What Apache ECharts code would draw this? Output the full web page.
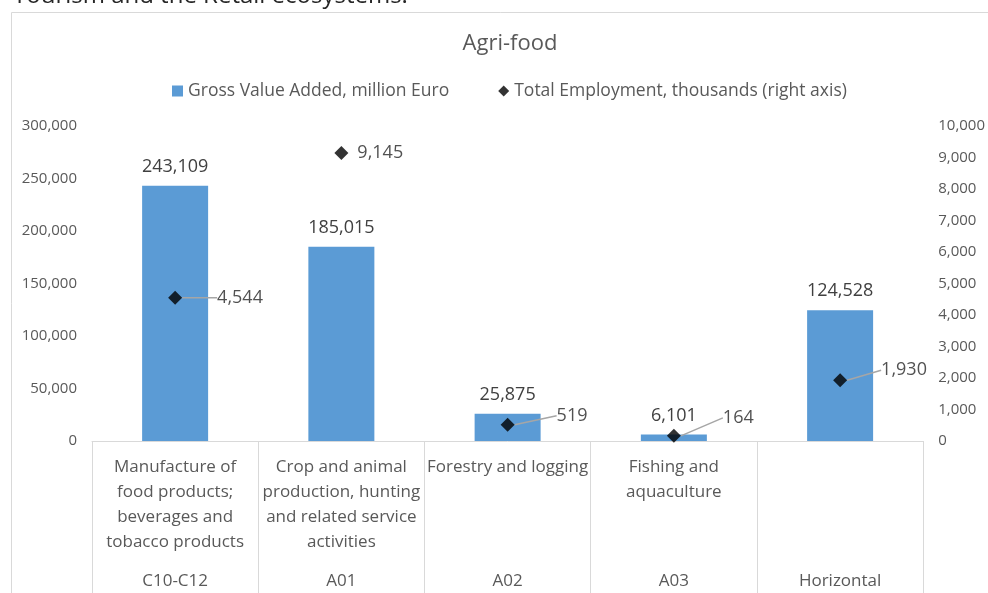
<!DOCTYPE html>
<html>
<head>
<meta charset="utf-8">
<script src="https://cdn.jsdelivr.net/npm/echarts@6/dist/echarts.min.js"></script>
<style>
  html, body { margin: 0; padding: 0; background: #fff; }
  #main { width: 988px; height: 593px; }
</style>
</head>
<body>
<div id="main"></div>
<script>
// chart data
var names = [
  'Manufacture of\nfood products;\nbeverages and\ntobacco products',
  'Crop and animal\nproduction, hunting\nand related service\nactivities',
  'Forestry and logging',
  'Fishing and\naquaculture',
  ''
];
var codes = ['C10-C12', 'A01', 'A02', 'A03', 'Horizontal'];
var gva = [243109, 185015, 25875, 6101, 124528];          // million Euro
var employment = [4544, 9145, 519, 164, 1930];            // thousands
// label offsets for the employment labels (dx, dy)
var empLabelShift = [[30, 0], [4, 0], [37, -9], [37, -18], [29, -10]];

var FONT = '"Open Sans", sans-serif';
var grey = '#595959';

var mychart = echarts.init(document.getElementById('main'));

var fmt = function (v) { return echarts.format.addCommas(v); };

var option = {
  animation: false,
  textStyle: { fontFamily: FONT },
  title: {
    text: 'Agri-food',
    left: 505,
    textAlign: 'center',
    top: 28,
    textStyle: { fontFamily: FONT, fontSize: 22, fontWeight: 'normal', color: grey }
  },
  legend: {
    top: 77,
    left: 167,
    itemWidth: 11,
    itemHeight: 11,
    itemGap: 49,
    textStyle: { fontFamily: FONT, fontSize: 17.5, color: grey },
    data: [
      { name: 'Gross Value Added, million Euro', icon: 'rect' },
      { name: 'Total Employment, thousands (right axis)', icon: 'diamond', itemStyle: { color: '#000' } }
    ]
  },
  graphic: [
    {
      type: 'rect',
      shape: { x: 11.5, y: 12.5, width: 1000, height: 620 },
      style: { fill: 'none', stroke: '#d9d9d9', lineWidth: 1 },
      silent: true
    },
    {
      type: 'text',
      x: 13,
      y: -4,
      style: {
        text: 'Tourism and the Retail ecosystems.',
        font: '24px "Open Sans", sans-serif',
        fill: '#262626',
        verticalAlign: 'middle'
      },
      silent: true
    }
  ],
  grid: { left: 92, right: 63, top: 126, bottom: 152 },
  xAxis: [
    {
      type: 'category',
      data: names,
      position: 'bottom',
      axisLine: { lineStyle: { color: '#d9d9d9' } },
      axisTick: { show: true, length: 170, lineStyle: { color: '#d9d9d9' } },
      axisLabel: {
        interval: 0,
        margin: 14,
        fontFamily: FONT,
        fontSize: 17,
        lineHeight: 25,
        color: grey
      }
    },
    {
      type: 'category',
      data: codes,
      position: 'bottom',
      offset: 124,
      axisLine: { show: false },
      axisTick: { show: false },
      axisLabel: {
        interval: 0,
        fontFamily: FONT,
        fontSize: 17,
        color: grey
      }
    }
  ],
  yAxis: [
    {
      type: 'value',
      min: 0,
      max: 300000,
      interval: 50000,
      splitLine: { show: false },
      axisLine: { show: false },
      axisLabel: { fontFamily: FONT, fontSize: 15, color: grey, margin: 15, formatter: fmt }
    },
    {
      type: 'value',
      min: 0,
      max: 10000,
      interval: 1000,
      splitLine: { show: false },
      axisLine: { show: false },
      axisLabel: { fontFamily: FONT, fontSize: 15, color: grey, margin: 15, formatter: fmt }
    }
  ],
  series: [
    {
      name: 'Gross Value Added, million Euro',
      type: 'bar',
      xAxisIndex: 0,
      yAxisIndex: 0,
      barWidth: 66,
      itemStyle: { color: '#5B9BD5' },
      label: {
        show: true,
        position: 'top',
        distance: 10,
        fontFamily: FONT,
        fontSize: 18,
        color: '#404040',
        formatter: function (p) { return fmt(p.value); }
      },
      data: gva
    },
    {
      name: 'Total Employment, thousands (right axis)',
      type: 'scatter',
      xAxisIndex: 0,
      yAxisIndex: 1,
      symbol: 'diamond',
      symbolSize: 14,
      itemStyle: { color: '#000' },
      label: {
        show: true,
        position: 'right',
        distance: 5,
        fontFamily: FONT,
        fontSize: 18,
        color: '#262626',
        formatter: function (p) { return fmt(p.value); }
      },
      labelLine: { show: true, lineStyle: { color: '#a6a6a6', width: 1.5 } },
      labelLayout: function (p) {
        var s = empLabelShift[p.dataIndex];
        return { dx: s[0], dy: s[1] };
      },
      data: employment.map(function (v, i) {
        var d = { value: v };
        if (i === 1) d.labelLine = { show: false };
        return d;
      })
    }
  ]
};

mychart.setOption(option);
</script>
</body>
</html>
